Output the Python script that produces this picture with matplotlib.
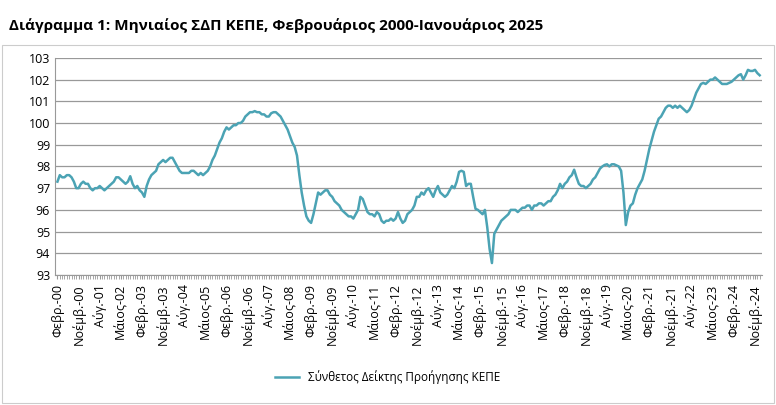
import matplotlib
matplotlib.use("Agg")
import matplotlib.pyplot as plt
import numpy as np

values = [
97.3,97.6,97.5,97.5,97.6,97.6,97.5,97.3,97.0,97.0,97.2,97.3,
97.2,97.2,97.0,96.9,97.0,97.0,97.1,97.0,96.9,97.0,97.1,97.2,
97.3,97.5,97.5,97.4,97.3,97.2,97.3,97.55,97.2,97.0,97.1,96.9,
96.8,96.6,97.1,97.4,97.6,97.7,97.8,98.1,98.2,98.3,98.2,98.3,
98.4,98.4,98.2,98.0,97.8,97.7,97.7,97.7,97.7,97.8,97.8,97.7,
97.6,97.7,97.6,97.7,97.8,98.0,98.3,98.5,98.8,99.1,99.3,99.6,
99.8,99.7,99.8,99.9,99.9,100.0,100.0,100.1,100.3,100.4,100.5,100.5,
100.55,100.5,100.5,100.4,100.4,100.3,100.3,100.45,100.5,100.5,100.4,100.3,
100.1,99.9,99.7,99.4,99.1,98.9,98.5,97.6,96.8,96.2,95.7,95.5,
95.4,95.8,96.3,96.8,96.7,96.8,96.9,96.9,96.7,96.6,96.4,96.3,
96.2,96.0,95.9,95.8,95.7,95.7,95.6,95.8,96.0,96.6,96.5,96.2,
95.9,95.8,95.8,95.7,95.9,95.8,95.5,95.4,95.5,95.5,95.6,95.5,
95.6,95.9,95.6,95.4,95.5,95.8,95.9,96.0,96.2,96.6,96.6,96.8,
96.7,96.9,97.0,96.8,96.6,96.9,97.1,96.8,96.7,96.6,96.7,96.9,
97.1,97.0,97.3,97.75,97.8,97.75,97.1,97.2,97.2,96.6,96.05,96.0,
95.9,95.8,96.0,95.2,94.2,93.55,94.9,95.1,95.3,95.5,95.6,95.7,
95.8,96.0,96.0,96.0,95.9,96.0,96.1,96.1,96.2,96.2,96.0,96.2,
96.2,96.3,96.3,96.2,96.3,96.4,96.4,96.6,96.7,96.9,97.2,97.0,
97.2,97.3,97.5,97.6,97.85,97.5,97.2,97.1,97.1,97.0,97.1,97.2,
97.4,97.5,97.7,97.9,98.0,98.07,98.1,98.0,98.1,98.1,98.05,98.0,
97.8,96.8,95.3,95.9,96.2,96.3,96.7,97.0,97.2,97.4,97.8,98.3,
98.8,99.2,99.6,99.9,100.2,100.3,100.5,100.7,100.8,100.8,100.7,100.8,
100.7,100.8,100.7,100.6,100.5,100.6,100.8,101.1,101.4,101.6,101.8,101.85,
101.8,101.9,102.0,102.0,102.1,102.0,101.9,101.8,101.8,101.8,101.85,101.9,
102.0,102.1,102.2,102.25,102.0,102.2,102.45,102.4,102.4,102.45,102.3,102.2,
]
tick_labels = ["Φεβρ.-00","Νοέμβ.-00","Αύγ.-01","Μάιος-02","Φεβρ.-03","Νοέμβ.-03",
 "Αύγ.-04","Μάιος-05","Φεβρ.-06","Νοέμβ.-06","Αύγ.-07","Μάιος-08","Φεβρ.-09",
 "Νοέμβ.-09","Αύγ.-10","Μάιος-11","Φεβρ.-12","Νοέμβ.-12","Αύγ.-13","Μάιος-14",
 "Φεβρ.-15","Νοέμβ.-15","Αύγ.-16","Μάιος-17","Φεβρ.-18","Νοέμβ.-18","Αύγ.-19",
 "Μάιος-20","Φεβρ.-21","Νοέμβ.-21","Αύγ.-22","Μάιος-23","Φεβρ.-24","Νοέμβ.-24"]
title = "Διάγραμμα 1: Μηνιαίος ΣΔΠ ΚΕΠΕ, Φεβρουάριος 2000-Ιανουάριος 2025"
series_name = "Σύνθετος Δείκτης Προήγησης ΚΕΠΕ"

plt.rcParams["font.family"] = "Open Sans"
fig = plt.figure(figsize=(7.76, 4.05), dpi=100)
ax = fig.add_axes([0.071, 0.321, 0.911, 0.536])
x = np.arange(len(values))
color = "#4BA3B4"
ax.plot(x, values, color=color, lw=1.8, label=series_name)
ax.set_ylim(93, 103)
ax.set_xlim(-1, len(values))
ax.set_yticks(range(93, 104))
ax.yaxis.grid(True, color="#999999", lw=0.9)
ax.set_axisbelow(True)
ax.set_xticks(np.arange(0, len(values), 9))
ax.set_xticklabels(tick_labels, rotation=90, fontsize=9)
ax.set_xticks(x, minor=True)
ax.tick_params(axis="x", which="both", length=3, color="#999999")
ax.tick_params(axis="y", length=0, labelsize=9)
for s in ["top", "right"]:
    ax.spines[s].set_visible(False)
for s in ["left", "bottom"]:
    ax.spines[s].set_color("#999999")
fig.text(0.012, 0.925, title, fontsize=11, fontweight="bold")
fig.legend(loc="lower center", bbox_to_anchor=(0.5, 0.025), frameon=False, fontsize=8.5)
fig.add_artist(plt.Rectangle((0.003, 0.005), 0.994, 0.885, transform=fig.transFigure,
                             fill=False, ec="#cccccc", lw=0.8))
fig.savefig("out.png", dpi=100)
